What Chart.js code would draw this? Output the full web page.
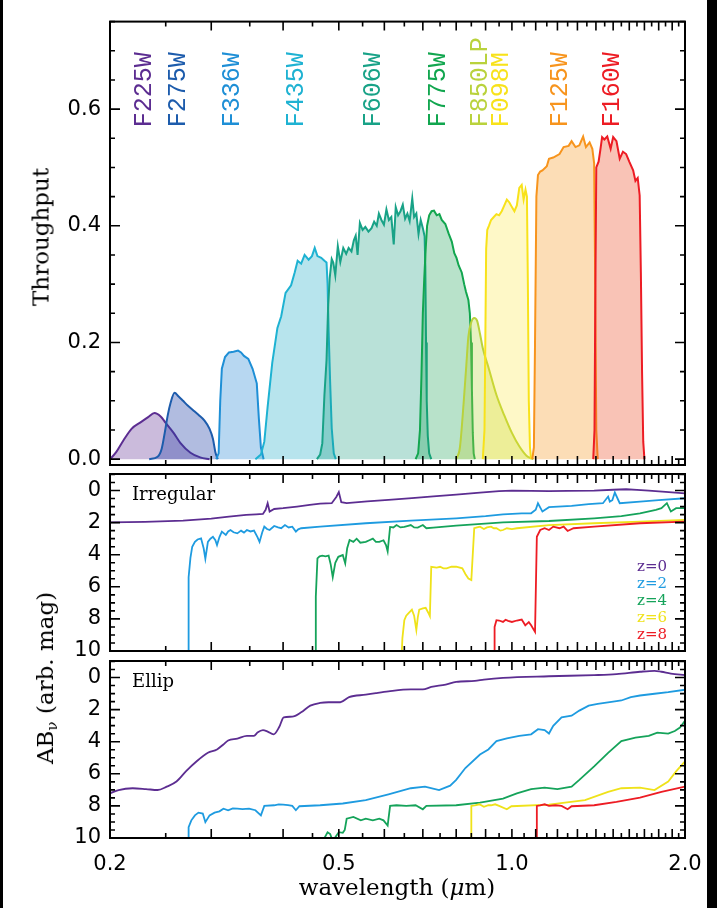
<!DOCTYPE html>
<html>
<head>
<meta charset="utf-8">
<title>HST filter throughputs and redshifted galaxy templates</title>
<script src="https://cdn.jsdelivr.net/npm/chart.js@4.4.1/dist/chart.umd.min.js"></script>
<style>
  html, body { margin: 0; padding: 0; background: #fff; }
  #page { position: relative; width: 717px; height: 908px; overflow: hidden; background: #fff; }
  #page canvas { position: absolute; left: 0; top: 0; }
  .edge { position: absolute; top: 0; height: 908px; background: #000; }
  .title { position: absolute; font-family: 'DejaVu Serif', serif; font-size: 23px; color: #000;
           white-space: nowrap; transform: translate(-50%, -50%); line-height: 1; }
  .vert { transform: translate(-50%, -50%) rotate(-90deg); }
  .title sub { font-size: 15px; vertical-align: -4px; }
</style>
</head>
<body>
<div id="page">
  <canvas id="thru" width="717" height="908"></canvas>
  <canvas id="irr" width="717" height="908"></canvas>
  <canvas id="ell" width="717" height="908"></canvas>
  <div class="title vert" style="left:41px;top:237px;">Throughput</div>
  <div class="title vert" style="left:47px;top:678px;">AB<sub>ν</sub> (arb. mag)</div>
  <div class="title" style="left:397px;top:887px;">wavelength (<i>μ</i>m)</div>
  <div class="edge" style="left:0;width:3px;"></div>
  <div class="edge" style="left:707px;width:10px;"></div>
</div>
<script>
// ---------------------------------------------------------------------------
// Axis ticks
// ---------------------------------------------------------------------------
const WAVE_TICK_LABELS = [0.2, 0.5, 1.0, 2.0];        // µm
const THRU_TICK_LABELS = [0.0, 0.2, 0.4, 0.6];
const MAG_TICK_LABELS = [0, 2, 4, 6, 8, 10];

// ---------------------------------------------------------------------------
// Filter throughput curves: [wavelength (µm), throughput]
// ---------------------------------------------------------------------------
const FILTER_NAMES = ['F225W', 'F275W', 'F336W', 'F435W', 'F606W', 'F775W', 'F850LP', 'F098M', 'F125W', 'F160W'];
const FILTER_PIVOT = [0.2359, 0.2704, 0.3355, 0.4328, 0.5888, 0.7651, 0.9033, 0.9864, 1.2486, 1.5369];

const F225W = [[0.200,0],[0.205,0.012],[0.211,0.032],[0.218,0.052],[0.226,0.063],[0.233,0.072],[0.239,0.079],
  [0.245,0.073],[0.250,0.062],[0.258,0.045],[0.265,0.028],[0.276,0.011],[0.287,0.003],[0.298,0]];
const F275W = [[0.234,0],[0.242,0.004],[0.246,0.018],[0.249,0.045],[0.252,0.075],[0.255,0.097],[0.259,0.114],
  [0.263,0.108],[0.268,0.100],[0.273,0.092],[0.279,0.084],[0.285,0.076],[0.292,0.066],[0.298,0.052],
  [0.302,0.035],[0.305,0.012],[0.308,0]];
const F336W = [[0.306,0],[0.309,0.01],[0.311,0.10],[0.313,0.155],[0.317,0.175],[0.322,0.183],[0.328,0.184],
  [0.334,0.186],[0.338,0.183],[0.342,0.177],[0.348,0.172],[0.354,0.155],[0.360,0.130],[0.363,0.07],
  [0.366,0.02],[0.370,0]];
const F435W = [[0.358,0],[0.366,0.008],[0.371,0.03],[0.376,0.09],[0.383,0.165],[0.391,0.225],[0.397,0.245],
  [0.404,0.285],[0.413,0.298],[0.419,0.32],[0.424,0.34],[0.430,0.335],[0.436,0.35],[0.443,0.342],
  [0.449,0.348],[0.454,0.362],[0.459,0.348],[0.466,0.345],[0.472,0.340],[0.476,0.337],[0.478,0.30],
  [0.480,0.22],[0.483,0.13],[0.486,0.053],[0.490,0.01],[0.494,0]];
const F606W = [[0.458,0],[0.464,0.008],[0.468,0.027],[0.472,0.11],[0.476,0.17],[0.479,0.26],[0.482,0.31],
  [0.486,0.343],[0.489,0.337],[0.493,0.315],[0.498,0.365],[0.503,0.338],[0.509,0.362],[0.515,0.352],
  [0.520,0.362],[0.526,0.356],[0.531,0.375],[0.535,0.383],[0.539,0.350],[0.544,0.405],[0.550,0.393],
  [0.556,0.398],[0.563,0.390],[0.570,0.396],[0.576,0.407],[0.582,0.400],[0.587,0.421],[0.593,0.410],
  [0.599,0.402],[0.605,0.428],[0.611,0.410],[0.617,0.415],[0.623,0.368],[0.628,0.432],[0.634,0.418],
  [0.640,0.425],[0.646,0.436],[0.652,0.412],[0.658,0.421],[0.664,0.408],[0.671,0.447],[0.676,0.415],
  [0.682,0.421],[0.688,0.386],[0.694,0.410],[0.700,0.396],[0.705,0.382],[0.707,0.33],[0.709,0.20],
  [0.711,0.10],[0.714,0.04],[0.718,0.01],[0.724,0]];
const F775W = [[0.680,0],[0.687,0.01],[0.692,0.05],[0.696,0.14],[0.700,0.25],[0.704,0.31],[0.708,0.36],
  [0.712,0.40],[0.718,0.418],[0.725,0.425],[0.732,0.426],[0.740,0.418],[0.748,0.420],[0.755,0.410],
  [0.766,0.403],[0.776,0.387],[0.786,0.373],[0.794,0.353],[0.801,0.345],[0.808,0.332],[0.818,0.320],
  [0.826,0.300],[0.832,0.287],[0.840,0.273],[0.845,0.25],[0.849,0.20],[0.852,0.12],[0.855,0.045],
  [0.858,0.01],[0.862,0]];
const F850LP = [[0.800,0],[0.812,0.02],[0.824,0.095],[0.833,0.16],[0.840,0.21],[0.850,0.235],[0.860,0.242],
  [0.870,0.237],[0.880,0.215],[0.890,0.190],[0.910,0.158],[0.940,0.110],[0.970,0.075],[1.000,0.045],
  [1.030,0.022],[1.060,0.006],[1.090,0]];
const F098M = [[0.890,0],[0.896,0.05],[0.899,0.20],[0.902,0.36],[0.906,0.393],[0.912,0.400],[0.920,0.410],
  [0.930,0.415],[0.940,0.420],[0.950,0.418],[0.960,0.425],[0.970,0.435],[0.980,0.445],[0.990,0.440],
  [1.000,0.432],[1.010,0.425],[1.020,0.435],[1.030,0.465],[1.040,0.470],[1.048,0.445],[1.056,0.462],
  [1.062,0.450],[1.066,0.30],[1.070,0.10],[1.075,0.02],[1.080,0]];
const F125W = [[1.085,0],[1.092,0.02],[1.097,0.20],[1.103,0.45],[1.110,0.487],[1.120,0.493],[1.130,0.495],
  [1.150,0.502],[1.160,0.515],[1.180,0.517],[1.210,0.523],[1.230,0.535],[1.255,0.537],[1.270,0.545],
  [1.290,0.535],[1.310,0.538],[1.330,0.553],[1.345,0.535],[1.365,0.543],[1.380,0.532],[1.390,0.507],
  [1.396,0.30],[1.402,0.05],[1.410,0]];
const F160W = [[1.385,0],[1.392,0.05],[1.397,0.30],[1.402,0.50],[1.415,0.510],[1.425,0.530],[1.435,0.552],
  [1.448,0.548],[1.465,0.553],[1.485,0.532],[1.500,0.552],[1.520,0.545],[1.540,0.515],[1.560,0.527],
  [1.580,0.523],[1.600,0.510],[1.625,0.495],[1.640,0.477],[1.655,0.482],[1.668,0.452],[1.676,0.32],
  [1.684,0.15],[1.692,0.03],[1.700,0]];
const FILTER_CURVES = [F225W, F275W, F336W, F435W, F606W, F775W, F850LP, F098M, F125W, F160W];

// ---------------------------------------------------------------------------
// Galaxy templates: [observed wavelength (µm), AB magnitude]
// ---------------------------------------------------------------------------
const REDSHIFTS = [0, 2, 4, 6, 8];

const IRR_Z0 = [[0.200,1.98],[0.230,1.95],[0.268,1.875],[0.300,1.75],[0.322,1.62],[0.345,1.52],[0.359,1.48],
  [0.369,1.46],[0.373,1.20],[0.376,0.79],[0.379,1.31],[0.386,1.15],[0.400,1.10],[0.423,1.00],[0.445,0.90],
  [0.464,0.82],[0.486,0.79],[0.495,0.40],[0.500,0.10],[0.505,0.73],[0.516,0.79],[0.560,0.68],[0.610,0.58],
  [0.670,0.47],[0.730,0.36],[0.800,0.25],[0.880,0.13],[0.950,0.04],[1.000,0.00],[1.080,0.02],[1.160,0.04],
  [1.250,0.02],[1.390,0.00],[1.500,-0.05],[1.580,-0.08],[1.650,-0.04],[1.730,0.00],[1.850,0.08],[2.000,0.18]];
const IRR_Z2 = [[0.2735,10.6],[0.2740,5.4],[0.276,4.2],[0.278,3.5],[0.281,3.2],[0.284,3.05],[0.288,2.98],
  [0.291,3.6],[0.293,4.25],[0.296,3.2],[0.299,3.0],[0.302,2.88],[0.305,3.1],[0.307,3.4],[0.310,2.9],
  [0.313,2.56],[0.318,2.77],[0.321,2.55],[0.324,2.46],[0.328,2.6],[0.333,2.67],[0.338,2.5],[0.342,2.62],
  [0.346,2.46],[0.351,2.55],[0.356,2.5],[0.361,2.9],[0.364,3.2],[0.368,2.6],[0.371,2.25],[0.375,2.4],
  [0.379,2.46],[0.386,2.21],[0.392,2.3],[0.397,2.35],[0.403,2.15],[0.409,2.3],[0.415,2.25],[0.421,2.56],
  [0.425,2.42],[0.430,2.35],[0.464,2.25],[0.557,2.04],[0.667,1.875],[0.800,1.73],[0.900,1.60],[0.965,1.48],
  [1.040,1.42],[1.080,1.42],[1.100,1.2],[1.110,0.79],[1.130,1.31],[1.160,1.04],[1.270,0.96],[1.360,0.85],
  [1.440,0.79],[1.470,0.375],[1.480,0.69],[1.495,0.6],[1.510,0.125],[1.540,0.79],[1.670,0.69],[1.800,0.60],
  [2.000,0.48]];
const IRR_Z4 = [[0.4555,10.6],[0.456,6.6],[0.459,4.23],[0.463,4.1],[0.468,4.06],[0.474,4.1],[0.480,4.06],
  [0.484,4.6],[0.488,5.4],[0.493,4.5],[0.499,4.13],[0.508,4.02],[0.513,4.54],[0.517,3.6],[0.522,3.08],
  [0.530,3.2],[0.537,3.0],[0.545,3.25],[0.557,3.2],[0.565,3.1],[0.573,3.0],[0.580,3.2],[0.588,3.2],
  [0.598,3.1],[0.604,3.4],[0.608,3.79],[0.614,2.27],[0.622,2.3],[0.630,2.15],[0.640,2.3],[0.650,2.27],
  [0.660,2.2],[0.667,2.15],[0.676,2.3],[0.686,2.31],[0.700,2.15],[0.710,2.35],[0.730,2.31],[0.800,2.19],
  [0.965,1.98],[1.160,1.90],[1.390,1.73],[1.550,1.60],[1.670,1.42],[1.780,1.20],[1.820,1.10],[1.860,0.79],
  [1.890,1.31],[1.930,1.10],[2.000,1.10]];
const IRR_Z6 = [[0.6425,10.6],[0.645,9.2],[0.650,8.08],[0.655,7.8],[0.660,7.67],[0.670,7.42],[0.676,7.8],
  [0.682,8.69],[0.686,7.9],[0.690,7.42],[0.700,7.35],[0.708,7.31],[0.715,7.6],[0.720,7.83],[0.724,4.75],
  [0.740,4.8],[0.750,4.75],[0.760,4.85],[0.770,4.85],[0.785,4.75],[0.800,4.75],[0.820,4.85],[0.830,5.2],
  [0.840,5.48],[0.850,5.58],[0.860,2.35],[0.870,2.3],[0.880,2.25],[0.894,2.4],[0.905,2.3],[0.920,2.25],
  [0.930,2.35],[0.940,2.35],[0.955,2.5],[0.965,2.46],[0.980,2.35],[1.000,2.4],[1.020,2.35],[1.160,2.15],
  [1.390,2.04],[1.670,1.94],[2.000,1.83]];
const IRR_Z8 = [[0.932,10.6],[0.933,8.5],[0.940,8.08],[0.950,8.1],[0.965,8.19],[0.975,8.05],[0.985,8.12],
  [1.000,8.19],[1.020,8.1],[1.040,8.04],[1.055,8.4],[1.070,8.2],[1.080,8.4],[1.097,8.81],[1.105,2.88],
  [1.120,2.46],[1.140,2.35],[1.160,2.46],[1.180,2.25],[1.210,2.35],[1.230,2.25],[1.250,2.52],[1.280,2.35],
  [1.390,2.25],[1.670,2.04],[2.000,1.94]];
const IRREGULAR = [IRR_Z0, IRR_Z2, IRR_Z4, IRR_Z6, IRR_Z8];

const ELL_Z0 = [[0.200,7.22],[0.207,7.01],[0.219,6.90],[0.231,6.95],[0.242,7.01],[0.251,6.80],[0.261,6.48],
  [0.271,5.85],[0.283,5.22],[0.296,4.69],[0.307,4.48],[0.315,4.17],[0.321,3.92],[0.333,3.81],[0.346,3.64],
  [0.356,3.64],[0.361,3.43],[0.369,3.28],[0.376,3.37],[0.385,3.54],[0.394,3.07],[0.401,2.48],[0.415,2.44],
  [0.430,2.17],[0.446,1.75],[0.464,1.58],[0.480,1.54],[0.503,1.54],[0.521,1.22],[0.557,1.07],[0.580,0.97],
  [0.610,0.86],[0.667,0.74],[0.700,0.74],[0.724,0.59],[0.767,0.44],[0.800,0.27],[0.862,0.21],[0.894,0.13],
  [0.965,0.02],[1.160,-0.08],[1.390,-0.15],[1.520,-0.21],[1.670,-0.36],[1.770,-0.42],[1.820,-0.36],
  [1.890,-0.25],[2.000,-0.15]];
const ELL_Z2 = [[0.2735,10.6],[0.274,9.33],[0.277,8.9],[0.281,8.59],[0.285,8.42],[0.290,8.48],[0.293,9.01],
  [0.298,8.59],[0.304,8.42],[0.310,8.34],[0.315,8.17],[0.321,8.27],[0.327,8.15],[0.333,8.17],[0.340,8.2],
  [0.349,8.17],[0.358,8.27],[0.366,8.59],[0.371,8.0],[0.386,7.96],[0.393,7.9],[0.400,7.92],[0.408,7.95],
  [0.415,8.0],[0.421,8.27],[0.427,8.02],[0.464,7.96],[0.508,7.85],[0.557,7.64],[0.610,7.28],[0.667,6.9],
  [0.706,6.8],[0.747,7.01],[0.781,6.74],[0.800,6.38],[0.830,5.64],[0.880,4.8],[0.910,4.48],[0.940,3.96],
  [0.980,3.79],[1.030,3.64],[1.080,3.54],[1.110,3.22],[1.140,3.28],[1.160,3.49],[1.180,3.01],[1.220,2.48],
  [1.270,2.38],[1.310,2.06],[1.360,1.75],[1.410,1.64],[1.510,1.49],[1.550,1.43],[1.610,1.22],[1.670,1.12],
  [1.770,1.01],[1.870,0.91],[2.000,0.76]];
const ELL_Z4 = [[0.468,10.6],[0.472,10.0],[0.478,9.64],[0.483,9.75],[0.488,10.2],[0.494,9.9],[0.500,9.64],
  [0.508,9.68],[0.512,9.5],[0.516,8.8],[0.530,8.69],[0.546,8.9],[0.557,8.8],[0.573,8.9],[0.588,8.8],
  [0.598,8.9],[0.608,9.22],[0.614,8.0],[0.630,7.96],[0.655,8.0],[0.680,7.96],[0.700,8.21],[0.710,8.0],
  [0.800,7.96],[0.880,7.79],[0.965,7.54],[1.020,7.22],[1.080,6.95],[1.140,6.86],[1.200,6.95],[1.270,6.8],
  [1.310,6.38],[1.390,5.54],[1.470,4.69],[1.550,3.96],[1.640,3.75],[1.730,3.64],[1.790,3.43],[1.870,3.49],
  [1.920,3.33],[1.960,3.12],[2.000,2.69]];
const ELL_Z6 = [[0.8495,10.6],[0.850,8.0],[0.862,7.96],[0.878,7.9],[0.894,8.06],[0.910,7.95],[0.920,7.96],
  [0.935,7.9],[0.950,8.0],[0.980,8.21],[0.998,8.02],[1.160,7.92],[1.340,7.64],[1.470,7.12],[1.550,6.9],
  [1.670,6.86],[1.770,7.01],[1.870,6.48],[1.930,5.85],[2.000,5.22]];
const ELL_Z8 = [[1.1045,10.6],[1.105,8.0],[1.120,7.96],[1.140,7.9],[1.160,8.0],[1.190,7.96],[1.220,8.0],
  [1.250,8.21],[1.270,8.02],[1.390,7.96],[1.520,7.75],[1.670,7.49],[1.820,7.12],[2.000,6.8]];
const ELLIPTICAL = [ELL_Z0, ELL_Z2, ELL_Z4, ELL_Z6, ELL_Z8];

// ---------------------------------------------------------------------------
// Styling
// ---------------------------------------------------------------------------
const FILTER_COLORS = ['#5C2D91', '#1D5CAC', '#1E8FD6', '#1EB2D2', '#18A287', '#12A64F',
                       '#B9D23C', '#F8E21A', '#F7941D', '#ED1C24'];
const FILTER_FILLS = ['rgba(92,45,145,0.32)', 'rgba(40,70,170,0.36)', 'rgba(30,130,210,0.32)',
                      'rgba(30,170,200,0.32)', 'rgba(24,155,125,0.30)', 'rgba(20,160,80,0.30)',
                      'rgba(185,210,60,0.32)', 'rgba(250,228,30,0.25)', 'rgba(247,148,29,0.32)',
                      'rgba(236,80,40,0.34)'];
const SMOOTH_FILTERS = ['F225W', 'F275W', 'F850LP'];
const Z_COLORS = ['#5C2D91', '#1E9BE0', '#15A35A', '#EFE21A', '#ED1C24'];
const FRAME_LEFT = 110, FRAME_RIGHT = 685;

const toXY = pairs => pairs.map(p => ({x: p[0], y: p[1]}));

// IDL-style frame: box with inward ticks on all four sides
const idlFrame = {
  id: 'idlFrame',
  afterDraw(chart, args, opts) {
    const {ctx, chartArea: a} = chart;
    const xs = chart.scales.x, ys = chart.scales.y;
    ctx.save();
    ctx.strokeStyle = '#000';
    ctx.lineWidth = 1.6;
    ctx.beginPath();
    for (let k = 4; k <= 40; k++) {
      const px = xs.getPixelForValue(k * 0.05);
      const len = k % 2 === 0 ? 9 : 5;
      ctx.moveTo(px, a.bottom); ctx.lineTo(px, a.bottom - len);
      ctx.moveTo(px, a.top); ctx.lineTo(px, a.top + len);
    }
    for (let k = opts.yFrom; k <= opts.yTo; k++) {
      const v = k * opts.yStep;
      if (v < Math.min(ys.min, ys.max) || v > Math.max(ys.min, ys.max)) continue;
      const py = ys.getPixelForValue(v);
      const len = k % opts.majorEvery === 0 ? 10 : 5;
      ctx.moveTo(a.left, py); ctx.lineTo(a.left + len, py);
      ctx.moveTo(a.right, py); ctx.lineTo(a.right - len, py);
    }
    ctx.stroke();
    ctx.lineWidth = 2;
    ctx.strokeRect(a.left, a.top, a.right - a.left, a.bottom - a.top);
    ctx.restore();
  }
};

// Rotated filter names, baseline at each filter's pivot wavelength
const filterLabels = {
  id: 'filterLabels',
  afterDatasetsDraw(chart, args, opts) {
    if (!opts.show) return;
    const {ctx} = chart;
    const xs = chart.scales.x, ys = chart.scales.y;
    ctx.save();
    ctx.font = "25px 'Liberation Mono', monospace";
    ctx.textAlign = 'left';
    ctx.textBaseline = 'alphabetic';
    FILTER_NAMES.forEach((name, i) => {
      ctx.save();
      ctx.translate(xs.getPixelForValue(FILTER_PIVOT[i]), ys.getPixelForValue(0.569));
      ctx.rotate(-Math.PI / 2);
      ctx.fillStyle = FILTER_COLORS[i];
      ctx.fillText(name, 0, 0);
      ctx.restore();
    });
    ctx.restore();
  }
};

// Panel name and redshift key
const panelText = {
  id: 'panelText',
  afterDatasetsDraw(chart, args, opts) {
    if (!opts.name) return;
    const {ctx, chartArea: a} = chart;
    ctx.save();
    ctx.fillStyle = '#000';
    ctx.font = "18px 'DejaVu Serif', serif";
    ctx.textAlign = 'left';
    ctx.textBaseline = 'middle';
    ctx.fillText(opts.name, a.left + 22, a.top + 21);
    if (opts.key) {
      ctx.font = "15px 'DejaVu Serif', serif";
      ctx.textAlign = 'right';
      REDSHIFTS.forEach((z, i) => {
        ctx.fillStyle = Z_COLORS[i];
        ctx.fillText('z=' + z, a.right - 18, a.top + 93 + i * 17);
      });
    }
    ctx.restore();
  }
};

Chart.register(idlFrame, filterLabels, panelText);

const tickFont = {family: "'DejaVu Sans', sans-serif", size: 21};

function panelOptions(p) {
  return {
    responsive: false,
    animation: false,
    devicePixelRatio: 1,
    events: [],
    layout: {padding: {left: 0, right: 717 - FRAME_RIGHT, top: p.top, bottom: p.bottom}},
    plugins: {
      legend: {display: false},
      tooltip: {enabled: false},
      idlFrame: p.frame,
      filterLabels: {show: !!p.filterLabels},
      panelText: {name: p.name || '', key: !!p.key}
    },
    scales: {
      x: {
        type: 'logarithmic', min: 0.2, max: 2.0, position: 'bottom',
        display: !!p.showX,
        grid: {display: false, drawTicks: false},
        border: {display: false},
        afterBuildTicks: s => { s.ticks = WAVE_TICK_LABELS.map(v => ({value: v})); },
        afterFit: s => { if (p.showX) s.height = 70; },
        ticks: {autoSkip: false, maxRotation: 0, minRotation: 0, padding: 14, color: '#000',
                font: tickFont, callback: v => Number(v).toFixed(1)}
      },
      y: {
        type: 'linear', min: p.yMin, max: p.yMax, reverse: !!p.reverse,
        grid: {display: false, drawTicks: false},
        border: {display: false},
        afterBuildTicks: s => { s.ticks = p.yTicks.map(v => ({value: v})); },
        afterFit: s => { s.width = FRAME_LEFT; },
        ticks: {autoSkip: false, padding: 9, color: '#000', font: tickFont, callback: p.yFormat}
      }
    }
  };
}

// Top: filter throughputs
new Chart(document.getElementById('thru'), {
  type: 'line',
  data: {
    datasets: FILTER_CURVES.map((curve, i) => ({
      label: FILTER_NAMES[i],
      data: toXY(curve),
      borderColor: FILTER_COLORS[i],
      backgroundColor: FILTER_FILLS[i],
      borderWidth: 2,
      pointRadius: 0,
      fill: 'origin',
      order: -i,
      cubicInterpolationMode: SMOOTH_FILTERS.includes(FILTER_NAMES[i]) ? 'monotone' : 'default',
      tension: 0
    }))
  },
  options: panelOptions({
    top: 9, bottom: 908 - 465, yMin: -0.01, yMax: 0.75, yTicks: THRU_TICK_LABELS,
    yFormat: v => Number(v).toFixed(1), filterLabels: true,
    frame: {yFrom: 0, yTo: 15, yStep: 0.05, majorEvery: 4}
  })
});

function spectraDatasets(set, smoothFirst) {
  return set.map((spec, i) => ({
    label: 'z=' + REDSHIFTS[i],
    data: toXY(spec),
    borderColor: Z_COLORS[i],
    borderWidth: 1.8,
    pointRadius: 0,
    fill: false,
    order: -i,
    cubicInterpolationMode: (smoothFirst && i === 0) ? 'monotone' : 'default',
    tension: 0
  }));
}

// Middle: irregular galaxy template
new Chart(document.getElementById('irr'), {
  type: 'line',
  data: {datasets: spectraDatasets(IRREGULAR, false)},
  options: panelOptions({
    top: 474, bottom: 908 - 651, yMin: -1.03, yMax: 10, reverse: true, yTicks: MAG_TICK_LABELS,
    yFormat: v => String(v), name: 'Irregular', key: true,
    frame: {yFrom: -2, yTo: 20, yStep: 0.5, majorEvery: 4}
  })
});

// Bottom: elliptical galaxy template, with the shared wavelength axis
new Chart(document.getElementById('ell'), {
  type: 'line',
  data: {datasets: spectraDatasets(ELLIPTICAL, true)},
  options: panelOptions({
    top: 661, bottom: 0, yMin: -1.03, yMax: 10, reverse: true, yTicks: MAG_TICK_LABELS,
    yFormat: v => String(v), name: 'Ellip', showX: true,
    frame: {yFrom: -2, yTo: 20, yStep: 0.5, majorEvery: 4}
  })
});
</script>
</body>
</html>
